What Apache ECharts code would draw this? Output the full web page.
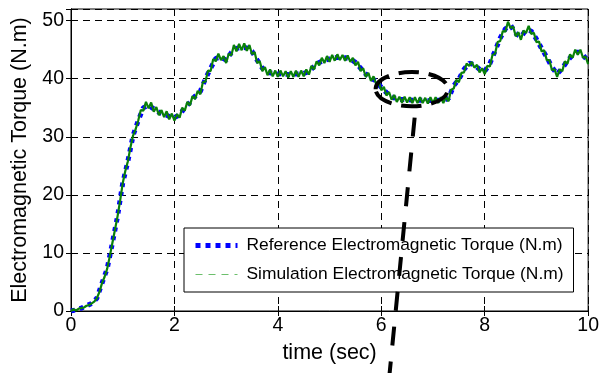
<!DOCTYPE html>
<html><head><meta charset="utf-8">
<script src="https://cdn.jsdelivr.net/npm/echarts@6/dist/echarts.min.js"></script>
<style>html,body{margin:0;padding:0;background:#fff}#c{width:602px;height:373px}</style>
</head><body><div id="c"></div>
<script>
// ---- data ----
const xTicks = [0, 2, 4, 6, 8, 10];
const yTicks = [0, 10, 20, 30, 40, 50];
const seriesNames = ['Reference Electromagnetic Torque (N.m)', 'Simulation Electromagnetic Torque (N.m)'];
const refStep = 0.1;   // sec between reference samples (t = 0 .. 10)
const referenceTorque = [
  0, 0.2, 0.5, 0.9, 1.3, 2.2, 4.8, 7.3, 11.7, 16.3,
  22, 25.8, 30.2, 32.8, 35.0, 35.4, 34.8, 34.2, 33.9, 33.5,
  33.3, 33.8, 35.0, 35.9, 37.0, 37.8, 40.0, 41.8, 43.5, 43.7,
  43.2, 44.5, 45.2, 45.4, 45.3, 44.7, 43.2, 41.8, 41.1, 40.9,
  40.8, 40.9, 40.7, 40.8, 40.8, 40.9, 41.2, 42.1, 42.8, 43.2,
  43.4, 43.6, 43.7, 43.6, 43.4, 42.8, 41.8, 40.8, 40.1, 39.6,
  38.5, 37.6, 36.9, 36.5, 36.4, 36.4, 36.3, 36.3, 36.3, 36.2,
  36.3, 36.3, 36.3, 36.6, 38.8, 39.9, 41.6, 42.7, 42.4, 41.6,
  41.3, 42.6, 44.8, 47.0, 48.6, 49.2, 47.8, 47.2, 48.4, 48.2,
  46.8, 45.2, 43.7, 42.0, 40.8, 41.8, 43.1, 44.1, 44.6, 44.1,
  43.0
];
const simStep = 0.05;  // sec between simulation samples (t = 0 .. 10)
const simulationTorque = [
  0.0, 0.3, 0.1, 0.4, 0.5, 0.6, 0.9, 1.0, 1.3, 1.6,
  2.2, 3.3, 4.8, 5.9, 7.3, 9.4, 11.7, 14.0, 16.3, 19.0,
  22.0, 24.1, 25.8, 28.2, 30.2, 31.3, 32.8, 34.6, 34.5, 36.0,
  34.9, 35.9, 34.3, 35.1, 33.7, 34.6, 33.4, 34.4, 33.0, 34.0,
  32.8, 33.9, 33.3, 35.0, 34.5, 36.0, 35.4, 37.0, 36.5, 37.9,
  37.3, 39.4, 39.5, 41.4, 41.3, 43.4, 43.0, 44.3, 43.2, 43.9,
  42.7, 44.3, 44.0, 45.8, 44.7, 46.0, 44.9, 46.1, 44.8, 45.8,
  44.2, 44.6, 42.7, 43.0, 41.3, 42.0, 40.6, 41.6, 40.4, 41.4,
  40.3, 41.4, 40.4, 41.3, 40.2, 41.3, 40.3, 41.4, 40.3, 41.4,
  40.4, 41.6, 40.7, 42.2, 41.6, 43.0, 42.3, 43.6, 42.7, 43.9,
  42.9, 44.1, 43.1, 44.2, 43.2, 44.1, 43.1, 44.0, 42.9, 43.6,
  42.3, 42.9, 41.3, 41.8, 40.3, 41.0, 39.6, 40.4, 39.1, 39.5,
  38.0, 38.6, 37.1, 37.7, 36.4, 37.2, 36.0, 36.9, 35.9, 36.9,
  35.9, 36.8, 35.8, 36.8, 35.8, 36.8, 35.8, 36.7, 35.7, 36.8,
  35.8, 36.8, 35.8, 36.8, 35.8, 36.9, 36.1, 38.1, 38.3, 39.8,
  39.4, 41.0, 41.1, 42.6, 42.2, 42.9, 41.9, 42.4, 41.1, 41.8,
  40.8, 42.2, 42.1, 44.1, 44.3, 46.3, 46.5, 48.2, 48.1, 49.8,
  48.7, 49.0, 47.3, 48.0, 46.7, 48.3, 47.9, 49.1, 47.7, 47.9,
  46.3, 46.4, 44.7, 44.9, 43.2, 43.2, 41.5, 41.6, 40.3, 41.6,
  41.3, 43.0, 42.6, 44.2, 43.6, 45.0, 44.1, 45.0, 43.6, 43.8,
  42.5
];
// annotation (data coordinates): dashed ellipse and pointer line
const noteEllipse = { cx: 6.59, cy: 38.2, rx: 0.70, ry: 2.95 };
const noteLine = { from: [6.645, 33.3], to: [6.16, -10.8] };

// ---- chart ----
const FONT = 'Liberation Sans, Arial, sans-serif';
const refData = referenceTorque.map((v, i) => [+(i * refStep).toFixed(2), v]);
const simData = simulationTorque.map((v, i) => [+(i * simStep).toFixed(2), v]);

const chart = echarts.init(document.getElementById('c'), null, { renderer: 'canvas' });
const gridLine = { show: true, lineStyle: { color: '#000', width: 1, type: [7, 5] } };
const option = {
  animation: false,
  backgroundColor: '#fff',
  grid: { left: 71, right: 13, top: 9, bottom: 62, show: true, borderColor: '#000', borderWidth: 1, backgroundColor: 'transparent' },
  xAxis: [{
    type: 'value', min: xTicks[0], max: xTicks[xTicks.length - 1], interval: xTicks[1] - xTicks[0],
    name: 'time (sec)', nameLocation: 'middle', nameGap: 31,
    nameTextStyle: { fontFamily: FONT, fontSize: 21.5, color: '#000' },
    axisLine: { show: true, onZero: false, lineStyle: { color: '#000', width: 1 } },
    axisTick: { show: true, inside: true, length: 5, lineStyle: { color: '#000' } },
    axisLabel: { fontFamily: FONT, fontSize: 19.5, color: '#000', margin: 5 },
    splitLine: gridLine
  }, {
    type: 'value', position: 'top', min: xTicks[0], max: xTicks[xTicks.length - 1], interval: xTicks[1] - xTicks[0],
    axisLine: { show: true, lineStyle: { color: '#000', width: 1 } },
    axisTick: { show: true, inside: true, length: 5, lineStyle: { color: '#000' } },
    axisLabel: { show: false }, splitLine: { show: false }
  }],
  yAxis: [{
    type: 'value', min: yTicks[0], max: 52, interval: yTicks[1] - yTicks[0],
    name: 'Electromagnetic Torque (N.m)', nameLocation: 'middle', nameGap: 40,
    nameTextStyle: { fontFamily: FONT, fontSize: 21.5, color: '#000' },
    axisLine: { show: true, onZero: false, lineStyle: { color: '#000', width: 1 } },
    axisTick: { show: true, inside: true, length: 5, lineStyle: { color: '#000' } },
    axisLabel: { fontFamily: FONT, fontSize: 19.5, color: '#000', margin: 7, showMaxLabel: false,
      formatter: v => (yTicks.indexOf(v) >= 0 ? String(v) : '') },
    splitLine: gridLine
  }, {
    type: 'value', position: 'right', min: yTicks[0], max: 52, interval: yTicks[1] - yTicks[0],
    axisLine: { show: true, lineStyle: { color: '#000', width: 1 } },
    axisTick: { show: true, inside: true, length: 5, lineStyle: { color: '#000' } },
    axisLabel: { show: false }, splitLine: { show: false }
  }],
  legend: {
    orient: 'vertical', left: 184, top: 228,
    padding: [9, 10, 9, 9], itemGap: 12, itemWidth: 42, itemHeight: 18,
    backgroundColor: '#fff', borderColor: '#000', borderWidth: 1, borderRadius: 0,
    textStyle: { fontFamily: FONT, fontSize: 17.4, color: '#000', padding: [0, 0, 0, 4] },
    data: [
      { name: seriesNames[0], itemStyle: { opacity: 0 }, lineStyle: { color: '#0000ff', width: 5, type: [5, 5], cap: 'butt', opacity: 1 } },
      { name: seriesNames[1], itemStyle: { opacity: 0 }, lineStyle: { color: '#6cbf6c', width: 1.2, type: [7, 6], cap: 'butt', opacity: 1 } }
    ],
    z: 10
  },
  series: [{
    name: seriesNames[0], type: 'line', data: refData, symbol: 'none', smooth: false,
    lineStyle: { color: '#0000ff', width: 5, type: [4, 5], cap: 'butt' },
    itemStyle: { color: '#0000ff' }, z: 2
  }, {
    name: seriesNames[1], type: 'line', data: simData, symbol: 'none', smooth: false,
    lineStyle: { color: '#0a800a', width: 2.2, type: 'solid' },
    itemStyle: { color: '#0a800a' }, z: 3
  }]
};
chart.setOption(option);

// annotation graphics positioned via the chart's own scales
const c = chart.convertToPixel({ gridIndex: 0 }, [noteEllipse.cx, noteEllipse.cy]);
const ex = chart.convertToPixel({ gridIndex: 0 }, [noteEllipse.cx + noteEllipse.rx, noteEllipse.cy]);
const ey = chart.convertToPixel({ gridIndex: 0 }, [noteEllipse.cx, noteEllipse.cy + noteEllipse.ry]);
const p1 = chart.convertToPixel({ gridIndex: 0 }, noteLine.from);
const p2 = chart.convertToPixel({ gridIndex: 0 }, noteLine.to);
chart.setOption({
  graphic: [{
    type: 'ellipse', z: 100,
    shape: { cx: c[0], cy: c[1], rx: ex[0] - c[0], ry: c[1] - ey[1] },
    style: { fill: 'none', stroke: '#000', lineWidth: 4, lineDash: [20, 10] }
  }, {
    type: 'line', z: 100,
    shape: { x1: p1[0], y1: p1[1], x2: p2[0], y2: p2[1] },
    style: { stroke: '#000', lineWidth: 4, lineDash: [19, 16] }
  }]
});
</script>
</body></html>
